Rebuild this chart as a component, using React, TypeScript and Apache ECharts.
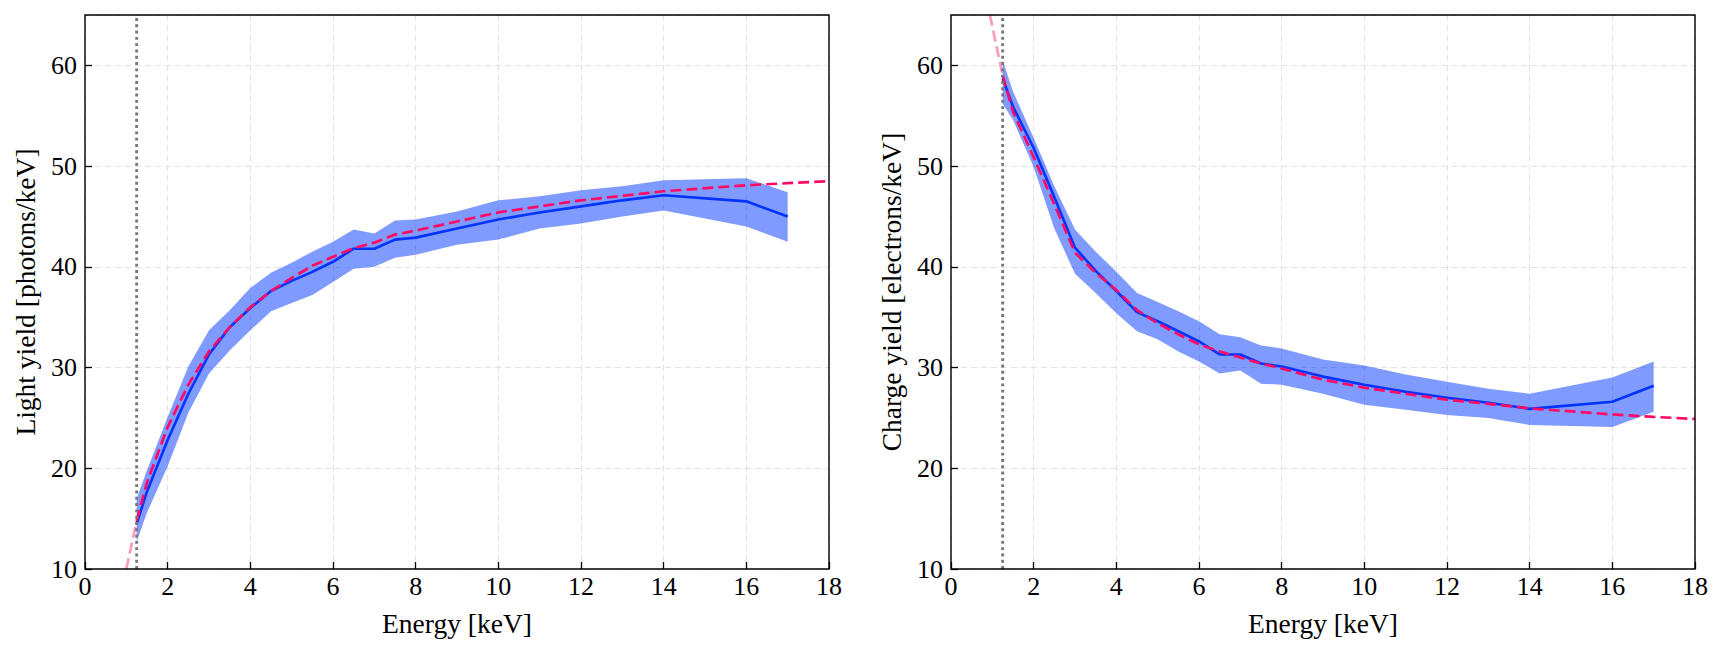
import React, { useEffect, useRef } from "react";
import * as echarts from "echarts";

// ---- data ----
const energy = [1.25, 1.5, 2, 2.5, 3, 3.5, 4, 4.5, 5, 5.5, 6, 6.5, 7, 7.5, 8, 9, 10, 11, 12, 13, 14, 16, 17];

const lightYield = [14.5, 17.7, 22.8, 27.4, 31.3, 34.0, 35.9, 37.6, 38.6, 39.5, 40.5, 41.8, 41.8, 42.7, 42.9, 43.8, 44.7, 45.4, 46.0, 46.6, 47.1, 46.5, 45.0];
const lightUpper = [17.0, 19.8, 25.1, 30.1, 33.7, 35.7, 37.9, 39.4, 40.4, 41.5, 42.5, 43.7, 43.3, 44.6, 44.7, 45.5, 46.6, 47.0, 47.6, 48.0, 48.6, 48.8, 47.4];
const lightLower = [12.7, 15.6, 20.2, 25.5, 29.4, 31.7, 33.7, 35.6, 36.4, 37.2, 38.5, 39.8, 40.0, 40.9, 41.2, 42.2, 42.7, 43.8, 44.3, 45.0, 45.6, 44.0, 42.5];

const fitEnergy = [1.25, 1.5, 2, 2.5, 3, 3.5, 4, 4.5, 5, 5.5, 6, 6.5, 7, 7.5, 8, 9, 10, 11, 12, 13, 14, 16, 17, 18];
const lightFit = [14.8, 18.6, 24.1, 28.3, 31.6, 34.0, 36.0, 37.6, 38.9, 40.1, 41.0, 41.85, 42.4, 43.2, 43.6, 44.5, 45.4, 46.0, 46.6, 47.05, 47.5, 48.1, 48.3, 48.5];
const lightExtEnergy = [1.0, 1.25];
const lightExt = [10.0, 14.8];

const chargeYield = [58.7, 55.9, 51.8, 46.9, 41.9, 39.6, 37.6, 35.5, 34.6, 33.6, 32.6, 31.3, 31.3, 30.4, 30.1, 29.1, 28.3, 27.6, 27.0, 26.5, 25.9, 26.6, 28.2];
const chargeUpper = [60.5, 57.4, 52.8, 48.0, 43.7, 41.5, 39.5, 37.4, 36.5, 35.6, 34.6, 33.3, 33.0, 32.2, 31.9, 30.8, 30.2, 29.3, 28.6, 27.9, 27.4, 29.0, 30.6];
const chargeLower = [56.2, 54.6, 49.9, 43.8, 39.3, 37.4, 35.4, 33.6, 32.8, 31.6, 30.6, 29.4, 29.7, 28.4, 28.3, 27.4, 26.3, 25.8, 25.3, 25.0, 24.3, 24.1, 25.6];
const chargeFit = [59.0, 55.4, 50.9, 46.2, 41.4, 39.4, 37.7, 35.7, 34.4, 33.3, 32.3, 31.6, 31.0, 30.4, 29.9, 28.8, 28.0, 27.4, 26.8, 26.4, 25.95, 25.35, 25.1, 24.9];
const chargeExtEnergy = [0.94, 1.1, 1.25];
const chargeExt = [65.0, 61.9, 59.0];

const threshold = 1.25;
const xTicks = { min: 0, max: 18, interval: 2 };
const yTicks = { min: 10, max: 65, interval: 10 };
const xLabel = "Energy [keV]";
const yLabels = ["Light yield [photons/keV]", "Charge yield [electrons/keV]"];

const FONT = "'Liberation Serif', 'DejaVu Serif', serif";

function pairs(xs: number[], ys: number[]) {
  return xs.map((x, i) => [x, ys[i]]);
}

function panelSeries(
  idx: number,
  line: number[],
  upper: number[],
  lower: number[],
  fit: number[],
  extE: number[],
  ext: number[]
): any[] {
  return [
    {
      type: "custom",
      xAxisIndex: idx,
      yAxisIndex: idx,
      silent: true,
      z: 1,
      data: energy.map((e, k) => [e, lower[k], upper[k]]),
      encode: { x: 0, y: [1, 2] },
      renderItem: (params: any, api: any) => {
        if (params.dataIndex !== 0) return null;
        const top = energy.map((e, k) => api.coord([e, upper[k]]));
        const bot = energy.map((e, k) => api.coord([e, lower[k]])).reverse();
        return {
          type: "polygon",
          shape: { points: top.concat(bot) },
          style: { fill: "rgba(0,56,255,0.5)" },
        };
      },
    },
    {
      type: "line",
      xAxisIndex: idx,
      yAxisIndex: idx,
      data: pairs(energy, line),
      showSymbol: false,
      symbol: "none",
      z: 3,
      lineStyle: { color: "#0033ff", width: 2.6 },
    },
    {
      type: "line",
      xAxisIndex: idx,
      yAxisIndex: idx,
      data: pairs(extE, ext),
      showSymbol: false,
      symbol: "none",
      z: 4,
      lineStyle: { color: "rgba(255,0,102,0.4)", width: 2.7, type: [11, 5] },
    },
    {
      type: "line",
      xAxisIndex: idx,
      yAxisIndex: idx,
      data: pairs(fitEnergy, fit),
      showSymbol: false,
      symbol: "none",
      z: 4,
      lineStyle: { color: "#ff0a64", width: 2.7, type: [11, 5] },
    },
    {
      type: "line",
      xAxisIndex: idx,
      yAxisIndex: idx,
      data: [
        [threshold, yTicks.min],
        [threshold, yTicks.max],
      ],
      showSymbol: false,
      symbol: "none",
      z: 5,
      lineStyle: { color: "#777777", width: 2.9, type: [2.9, 3.4] },
    },
  ];
}

export default function App() {
  const ref = useRef<HTMLDivElement>(null);
  useEffect(() => {
    if (!ref.current) return;
    const chart = echarts.init(ref.current, undefined, { renderer: "svg" });
    const grid = (left: number) => ({
      left,
      top: 15,
      width: 744,
      height: 554,
      show: true,
      z: 10,
      borderColor: "#000",
      borderWidth: 1.4,
      backgroundColor: "rgba(0,0,0,0)",
      containLabel: false,
    });
    const splitLine = {
      show: true,
      lineStyle: { color: "#e2e2e2", width: 1.1, type: [6, 4] },
    };
    const xAxis = (i: number) => ({
      gridIndex: i,
      type: "value",
      ...xTicks,
      name: xLabel,
      nameLocation: "middle",
      nameGap: 40,
      nameTextStyle: { fontFamily: FONT, fontSize: 27.5, color: "#000" },
      axisLine: { show: false },
      axisTick: { show: true, inside: true, length: 7, lineStyle: { color: "#000", width: 1.3 } },
      axisLabel: { fontFamily: FONT, fontSize: 26, color: "#000", margin: 4 },
      splitLine,
    });
    const yAxis = (i: number) => ({
      gridIndex: i,
      type: "value",
      ...yTicks,
      name: yLabels[i],
      nameLocation: "middle",
      nameGap: 46,
      nameTextStyle: { fontFamily: FONT, fontSize: 27.5, color: "#000" },
      axisLine: { show: false },
      axisTick: { show: true, inside: true, length: 7, lineStyle: { color: "#000", width: 1.3 } },
      axisLabel: {
        fontFamily: FONT,
        fontSize: 26,
        color: "#000",
        margin: 8,
        showMaxLabel: false,
        formatter: (v: number) => (v % yTicks.interval === 0 ? String(v) : ""),
      },
      splitLine,
    });
    chart.setOption({
      animation: false,
      backgroundColor: "#fff",
      textStyle: { fontFamily: FONT },
      grid: [grid(85), grid(951)],
      xAxis: [xAxis(0), xAxis(1)],
      yAxis: [yAxis(0), yAxis(1)],
      series: [
        ...panelSeries(0, lightYield, lightUpper, lightLower, lightFit, lightExtEnergy, lightExt),
        ...panelSeries(1, chargeYield, chargeUpper, chargeLower, chargeFit, chargeExtEnergy, chargeExt),
      ],
    });
    return () => chart.dispose();
  }, []);
  return (
    <div
      ref={ref}
      style={{ position: "fixed", left: 0, top: 0, width: 1722, height: 650, background: "#fff" }}
    />
  );
}
